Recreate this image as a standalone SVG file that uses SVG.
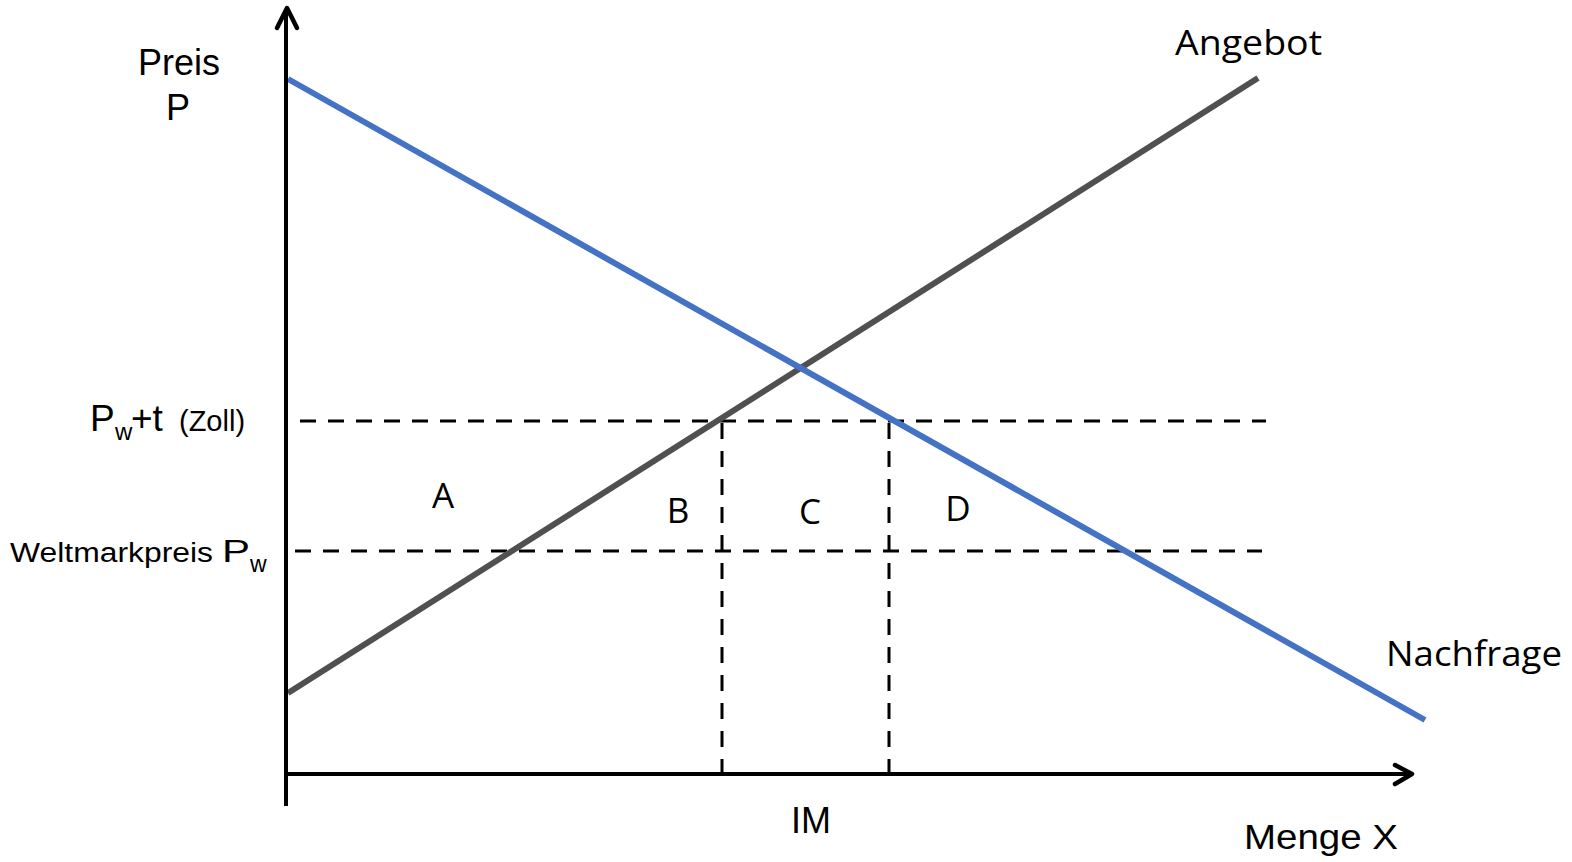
<svg xmlns="http://www.w3.org/2000/svg" width="1572" height="862" viewBox="0 0 1572 862">
<style>
.ar{font-family:"Liberation Sans",Arial,sans-serif;fill:#000}
.cb{font-family:"Open Sans","Liberation Sans",sans-serif;fill:#000}
.dash{stroke:#000;stroke-width:3;stroke-dasharray:16 12;fill:none}
.axis{stroke:#000;stroke-width:4;fill:none}
.head{stroke:#000;stroke-width:4.5;fill:none;stroke-linecap:round;stroke-linejoin:round}
</style>
<rect width="1572" height="862" fill="#fff"/>
<g id="connectors">
<line class="dash" x1="300" y1="421" x2="1266" y2="421"/>
<line class="dash" x1="295" y1="551" x2="1262" y2="551"/>
<line class="dash" x1="722" y1="423" x2="722" y2="774"/>
<line class="dash" x1="889" y1="423" x2="889" y2="774"/>
<line x1="288" y1="693" x2="1258" y2="78" stroke="#505050" stroke-width="6"/>
<line x1="288" y1="79" x2="1425" y2="720" stroke="#4472C4" stroke-width="6"/>
<line class="axis" x1="286" y1="10" x2="286" y2="806"/>
<polyline class="head" points="277,28 287,8 297,28"/>
<line class="axis" x1="286" y1="774" x2="1410" y2="774"/>
<polyline class="head" points="1395,765 1412,774 1395,784"/>
</g>
<g id="preis"><text class="ar" font-size="36" text-anchor="middle" x="179" y="75">Preis</text><text class="ar" font-size="36" text-anchor="middle" x="178" y="120">P</text></g>
<g id="angebot"><text class="cb" font-size="35" x="1175" y="55" textLength="147" lengthAdjust="spacingAndGlyphs">Angebot</text></g>
<g id="nachfrage"><text class="cb" font-size="35" x="1386" y="666" textLength="176" lengthAdjust="spacingAndGlyphs">Nachfrage</text></g>
<g id="pwt">
<text class="ar" font-size="37" x="90" y="431">P</text>
<text class="ar" font-size="24" x="115" y="440">w</text>
<text class="ar" font-size="37" x="131" y="431">+t</text>
<text class="ar" font-size="29" x="179" y="431">(Zoll)</text>
</g>
<g id="pw">
<text class="ar" font-size="27" x="10" y="562" textLength="203" lengthAdjust="spacingAndGlyphs">Weltmarkpreis</text>
<text class="ar" font-size="31" x="222" y="562" textLength="28" lengthAdjust="spacingAndGlyphs">P</text>
<text class="ar" font-size="23" x="250" y="572">w</text>
</g>
<g id="A"><text class="cb" font-size="35" text-anchor="middle" x="443" y="508">A</text></g>
<g id="B"><text class="cb" font-size="35" text-anchor="middle" x="678" y="523">B</text></g>
<g id="C"><text class="cb" font-size="35" text-anchor="middle" x="810" y="524">C</text></g>
<g id="D"><text class="cb" font-size="35" text-anchor="middle" x="958" y="521">D</text></g>
<g id="IM"><text class="ar" font-size="36" text-anchor="middle" x="811" y="833">IM</text></g>
<g id="menge"><text class="ar" font-size="35" x="1244" y="849" textLength="154" lengthAdjust="spacingAndGlyphs">Menge X</text></g>
</svg>
